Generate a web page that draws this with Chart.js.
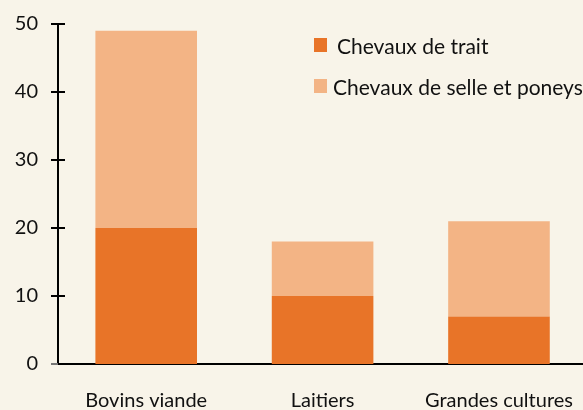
<!DOCTYPE html>
<html lang="fr">
<head>
  <meta charset="UTF-8">
  <title>Chevaux par type d'exploitation</title>
  <script src="https://cdn.jsdelivr.net/npm/chart.js"></script>
  <style>
    html, body { margin: 0; padding: 0; background: #f8f4e9; }
    #wrap { position: relative; width: 583px; height: 410px; overflow: hidden; }
    .leg { position: absolute; font-family: Lato, sans-serif; font-size: 21px; line-height: 21px; color: #111; white-space: nowrap; }
    .leg span { position: absolute; left: 0; top: 3px; width: 13px; height: 14px; }
  </style>
</head>
<body>
<div id="wrap">
  <!-- canvas a bit wider than the window: the plot runs past the right edge -->
  <canvas id="chart" width="590" height="410"></canvas>
  <div id="legend"></div>
</div>

<script>
  // data
  const categories = ["Bovins viande", "Laitiers", "Grandes cultures"];
  const traitValues = [20, 10, 7];
  const selleValues = [29, 8, 14];
  const yTicks = [0, 10, 20, 30, 40, 50];

  const seriesNames = ["Chevaux de trait", "Chevaux de selle et poneys"];
  const colors = ["#e87428", "#f3b485"];

  // small ticks crossing the y axis line
  const crossTicks = {
    id: 'crossTicks',
    afterDraw(chart) {
      const ctx = chart.ctx;
      const y = chart.scales.y;
      const x0 = chart.chartArea.left;
      ctx.save();
      ctx.lineWidth = 2;
      yTicks.forEach(function(v) {
        const py = Math.round(y.getPixelForValue(v));
        ctx.strokeStyle = v === 0 ? '#777' : '#000';
        ctx.beginPath();
        ctx.moveTo(x0 - 7, py);
        ctx.lineTo(v === 0 ? x0 : x0 + 7, py);
        ctx.stroke();
      });
      ctx.restore();
    }
  };

  new Chart(document.getElementById('chart'), {
    type: 'bar',
    data: {
      labels: categories,
      datasets: [
        { label: seriesNames[0], data: traitValues, backgroundColor: colors[0] },
        { label: seriesNames[1], data: selleValues, backgroundColor: colors[1] }
      ]
    },
    options: {
      responsive: false,
      animation: false,
      layout: { padding: { top: 10, right: 0, left: 0, bottom: 0 } },
      plugins: { legend: { display: false }, tooltip: { enabled: false } },
      datasets: { bar: { barPercentage: 0.576, categoryPercentage: 1 } },
      scales: {
        x: {
          stacked: true,
          grid: { display: false },
          border: { display: true, color: '#000', width: 2 },
          ticks: { color: '#111', font: { family: 'Lato', size: 20 }, padding: 17 },
          afterFit(scale) { scale.height = 46; }
        },
        y: {
          stacked: true,
          min: 0,
          max: 50,
          grid: { display: false },
          border: { display: true, color: '#000', width: 2 },
          ticks: {
            stepSize: 10,
            color: '#111',
            font: { family: 'Lato', size: 20 },
            padding: 12
          },
          afterFit(scale) { scale.width = 58; }
        }
      }
    },
    plugins: [crossTicks]
  });

  // legend in the upper right
  const legend = document.getElementById('legend');
  const legPos = [[314, 35, 23], [314, 76, 19]];
  seriesNames.forEach(function(name, i) {
    const d = document.createElement('div');
    d.className = 'leg';
    d.style.left = legPos[i][0] + 'px';
    d.style.top = legPos[i][1] + 'px';
    d.style.paddingLeft = legPos[i][2] + 'px';
    d.innerHTML = '<span style="background:' + colors[i] + '"></span>' + name;
    legend.appendChild(d);
  });
</script>
</body>
</html>
